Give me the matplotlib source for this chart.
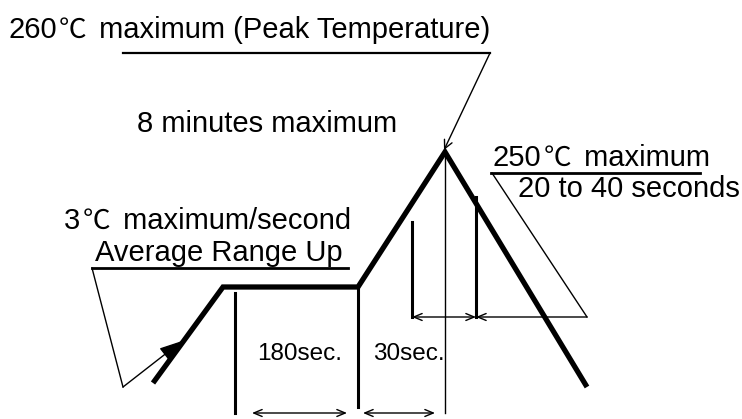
import matplotlib
matplotlib.use("Agg")
import matplotlib.pyplot as plt
from matplotlib.transforms import offset_copy

# Reflow profile polyline (pixel-space of the diagram)
profile_x = [153, 223, 358, 445, 587]
profile_y = [383, 287, 287, 152, 387]

labels = {
    "peak": "260℃ maximum (Peak Temperature)",
    "time": "8 minutes maximum",
    "above": "250℃ maximum",
    "above2": "20 to 40 seconds",
    "ramp": "3℃ maximum/second",
    "ramp2": "Average Range Up",
    "soak": "180sec.",
    "pre": "30sec.",
}

LAT = ["Liberation Sans", "DejaVu Sans"]
CJK = ["Noto Sans CJK JP", "DejaVu Sans"]

fig = plt.figure(figsize=(7.42, 4.19), dpi=100)
ax = fig.add_axes([0, 0, 1, 1])
ax.set_xlim(0, 742)
ax.set_ylim(419, 0)
ax.axis("off")
renderer = fig.canvas.get_renderer()


def mixed_text(x, y, s, fs):
    """Draw s with the degree-Celsius sign in a CJK face."""
    parts = []
    buf = ""
    for ch in s:
        if ch == "℃":
            if buf:
                parts.append((buf, LAT))
            parts.append((ch, CJK))
            buf = ""
        else:
            buf += ch
    if buf:
        parts.append((buf, LAT))
    dx = 0.0
    for txt, fam in parts:
        tr = offset_copy(ax.transData, fig=fig, x=dx, y=0, units="dots")
        if fam is CJK:
            t = ax.text(x, y, txt, fontsize=fs * 0.95, family=fam, va="baseline",
                        transform=offset_copy(tr, fig=fig, x=2, y=0, units="dots"))
            dx += t.get_window_extent(renderer).width + 7
        else:
            t = ax.text(x, y, txt, fontsize=fs, family=fam, va="baseline", transform=tr)
            dx += t.get_window_extent(renderer).width


K = "black"
thin = 1.0
# profile
ax.plot(profile_x, profile_y, color=K, lw=3.8, solid_joinstyle="miter", solid_capstyle="butt")

# texts
fs = 21
mixed_text(8, 38, labels["peak"], fs)
mixed_text(137, 132, labels["time"], fs)
mixed_text(493, 166, labels["above"], fs)
mixed_text(518, 197, labels["above2"], fs)
mixed_text(64, 229, labels["ramp"], fs)
mixed_text(95, 261, labels["ramp2"], fs)
ax.text(257, 360, labels["soak"], fontsize=17.5, family=LAT, va="baseline")
ax.text(373, 360, labels["pre"], fontsize=17.5, family=LAT, va="baseline")

# peak callout
ax.plot([123, 490], [53, 53], color=K, lw=1.6)
ax.annotate("", xy=(444, 150), xytext=(490, 53),
            arrowprops=dict(arrowstyle="->,head_length=0.6,head_width=0.3", color=K, lw=thin,
                            shrinkA=0, shrinkB=0))

# 250 callout
ax.plot([491, 700], [173, 173], color=K, lw=2.0)
ax.plot([492, 587], [173, 317], color=K, lw=thin)

# ramp callout
ax.plot([92, 348], [268, 268], color=K, lw=2.0)
ax.plot([92, 123], [268, 387], color=K, lw=thin)
ax.annotate("", xy=(182, 341), xytext=(123, 387),
            arrowprops=dict(arrowstyle="-|>,head_length=1.4,head_width=0.5", color=K, lw=thin,
                            shrinkA=0, shrinkB=0))

# vertical marker lines
ax.plot([235, 235], [293, 413], color=K, lw=2.2)
ax.plot([358, 358], [288, 407], color=K, lw=2.2)
ax.plot([445, 445], [152, 413], color=K, lw=thin)
ax.plot([412, 412], [222, 317], color=K, lw=2.2)
ax.plot([476, 476], [197, 317], color=K, lw=2.2)

# dimension arrows
arr = dict(arrowstyle="<->,head_length=0.6,head_width=0.25", color=K, lw=thin, shrinkA=0, shrinkB=0)
ax.annotate("", xy=(476, 317), xytext=(412, 317), arrowprops=arr)
ax.annotate("", xy=(476, 317), xytext=(587, 317),
            arrowprops=dict(arrowstyle="->,head_length=0.6,head_width=0.25", color=K, lw=thin,
                            shrinkA=0, shrinkB=0))
ax.annotate("", xy=(347, 413), xytext=(252, 413), arrowprops=arr)
ax.annotate("", xy=(435, 413), xytext=(363, 413), arrowprops=arr)

fig.savefig("out.png", dpi=100)
